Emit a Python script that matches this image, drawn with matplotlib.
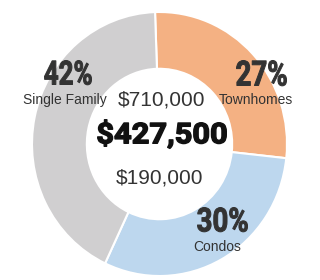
import matplotlib
matplotlib.use("Agg")
import matplotlib.pyplot as plt
from matplotlib.textpath import TextPath
from matplotlib.font_manager import FontProperties
from matplotlib.patches import PathPatch
from matplotlib.transforms import Affine2D

categories = ["Townhomes", "Condos", "Single Family"]
shares = [27, 30, 42]
colors = ["#F4B183", "#BDD7EE", "#D0CFD0"]
center_values = ["$710,000", "$427,500", "$190,000"]

W, H = 320, 280
fig = plt.figure(figsize=(W / 100, H / 100), dpi=100)
ax = fig.add_axes([0, 0, 1, 1])

cx, cy = 159.5, 144.0   # pixel centre
rx, ry = 127.5, 132.0   # pixel radii
ax.pie(shares, colors=colors, startangle=92, counterclock=False,
       radius=1.0, wedgeprops=dict(width=0.43, edgecolor="white", linewidth=1.5))
ax.set_aspect("auto")
ax.set_xlim(-cx / rx, (W - cx) / rx)
ax.set_ylim(-(H - cy) / ry, cy / ry)
ax.axis("off")

# overlay in pixel coordinates for condensed bold numbers
ov = fig.add_axes([0, 0, 1, 1], zorder=5)
ov.set_xlim(0, W)
ov.set_ylim(0, H)
ov.axis("off")
ov.patch.set_alpha(0)

bold_prop = FontProperties(family="Roboto", weight="bold")

def fit_text(s, left, right, top, bottom, color, stroke):
    # stroke (in px) thickens glyphs; shrink target box accordingly
    pad = stroke / 2
    left, right, top, bottom = left + pad, right - pad, top + pad, bottom - pad
    tp = TextPath((0, 0), s, size=100, prop=bold_prop)
    ref = TextPath((0, 0), "0", size=100, prop=bold_prop).get_extents()
    eb = tp.get_extents()
    sy = (bottom - top) / ref.y1
    sx = (right - left) / eb.width
    tr = Affine2D().translate(-eb.x0, 0).scale(sx, sy).translate(left, H - bottom)
    ov.add_patch(PathPatch(tr.transform_path(tp), facecolor=color,
                           edgecolor=color, lw=stroke * 0.72, joinstyle="round"))

def px(x, y):
    return x / W, 1 - y / H

reg = dict(family=["Liberation Sans", "DejaVu Sans"])
dark = "#333333"

pct = [f"{v}%" for v in shares]
fit_text(pct[0], 236, 287, 60, 86, dark, 1.0)
fit_text(pct[1], 197, 248, 207, 232, dark, 1.0)
fit_text(pct[2], 44, 92, 60, 85, dark, 1.0)
fit_text(center_values[1], 97, 227, 122, 144, "#111111", 1.4)

# category labels
fig.text(*px(256, 104), categories[0], ha="center", va="baseline", fontsize=10, color=dark, **reg)
fig.text(*px(217.5, 251), categories[1], ha="center", va="baseline", fontsize=10, color=dark, **reg)
fig.text(*px(64.5, 104), categories[2], ha="center", va="baseline", fontsize=10, color=dark, **reg)
# centre values
fig.text(*px(161.5, 106), center_values[0], ha="center", va="baseline", fontsize=15, color=dark, **reg)
fig.text(*px(159.5, 183), center_values[2], ha="center", va="baseline", fontsize=15, color=dark, **reg)

fig.savefig("out.png", dpi=100)
